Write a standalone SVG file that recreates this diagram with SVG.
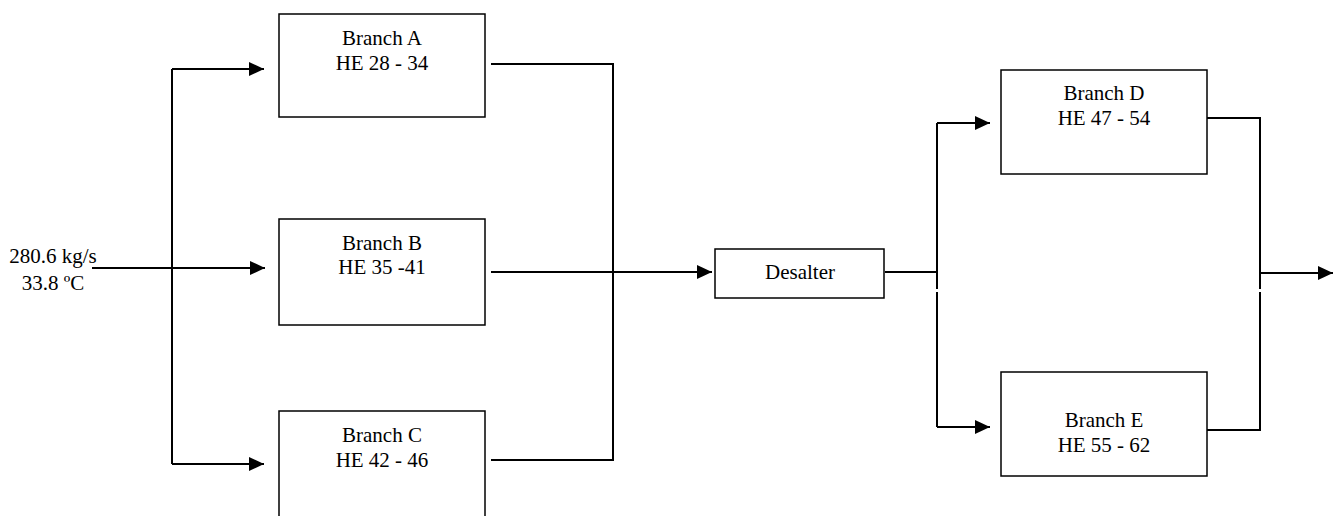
<svg xmlns="http://www.w3.org/2000/svg" width="1338" height="516" viewBox="0 0 1338 516">
<style>
.box{fill:#fff;stroke:#000;stroke-width:1.5}
.ln{fill:none;stroke:#000;stroke-width:2}
.t{font-family:"Liberation Serif","Times New Roman",serif;font-size:21px;fill:#000;text-anchor:middle}
</style>
<defs>
<marker id="ah" markerUnits="userSpaceOnUse" markerWidth="16" markerHeight="16" refX="15" refY="8" orient="auto">
<path d="M0,1 L15,8 L0,15 Z" fill="#000"/>
</marker>
</defs>
<rect width="1338" height="516" fill="#fff"/>
<g id="connectors">
<path class="ln" d="M92,268 H265" marker-end="url(#ah)"/>
<path class="ln" d="M172,69 V464"/>
<path class="ln" d="M172,69 H264" marker-end="url(#ah)"/>
<path class="ln" d="M172,464 H264" marker-end="url(#ah)"/>
<path class="ln" d="M491,64 H613 V460 H491"/>
<path class="ln" d="M491,272 H712" marker-end="url(#ah)"/>
<path class="ln" d="M885,272 H937"/>
<path class="ln" d="M937,123 V289 M937,292 V427"/>
<path class="ln" d="M937,123 H990" marker-end="url(#ah)"/>
<path class="ln" d="M937,427 H990" marker-end="url(#ah)"/>
<path class="ln" d="M1207,118 H1260 V289 M1260,292 V430 H1207"/>
<path class="ln" d="M1260,273 H1333" marker-end="url(#ah)"/>
</g>
<g id="input-label">
<text class="t" x="53" y="263">280.6 kg/s</text>
<text class="t" x="53" y="290">33.8 ºC</text>
</g>
<g id="branchA">
<rect class="box" x="279" y="14" width="206" height="103"/>
<text class="t" x="382" y="45">Branch A</text>
<text class="t" x="382" y="70">HE 28 - 34</text>
</g>
<g id="branchB">
<rect class="box" x="279" y="219" width="206" height="106"/>
<text class="t" x="382" y="250">Branch B</text>
<text class="t" x="382" y="274">HE 35 -41</text>
</g>
<g id="branchC">
<rect class="box" x="279" y="411" width="206" height="112"/>
<text class="t" x="382" y="442">Branch C</text>
<text class="t" x="382" y="467">HE 42 - 46</text>
</g>
<g id="desalter">
<rect class="box" x="715" y="249" width="169" height="49"/>
<text class="t" x="800" y="279">Desalter</text>
</g>
<g id="branchD">
<rect class="box" x="1001" y="70" width="206" height="104"/>
<text class="t" x="1104" y="100">Branch D</text>
<text class="t" x="1104" y="125">HE 47 - 54</text>
</g>
<g id="branchE">
<rect class="box" x="1001" y="372" width="206" height="104"/>
<text class="t" x="1104" y="427">Branch E</text>
<text class="t" x="1104" y="452">HE 55 - 62</text>
</g>
</svg>
